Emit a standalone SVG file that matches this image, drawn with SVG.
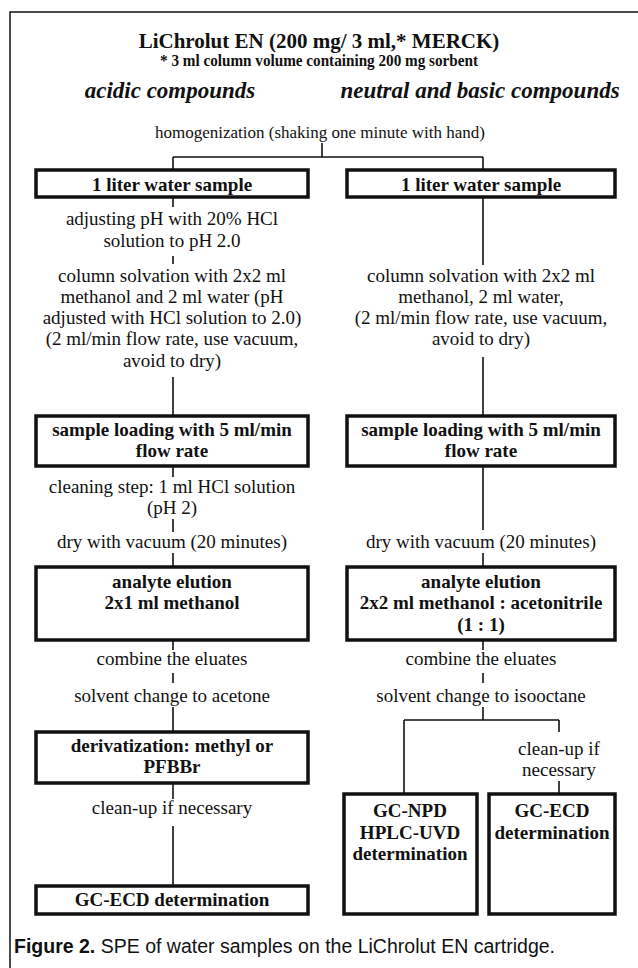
<svg xmlns="http://www.w3.org/2000/svg" width="638" height="968" viewBox="0 0 638 968">
<style>
text{font-family:"Liberation Serif","Times New Roman",serif;fill:#111;text-anchor:middle}
.t{font-size:21px;font-weight:bold}
.s{font-size:16px;font-weight:bold}
.h{font-size:23px;font-weight:bold;font-style:italic}
.m{font-size:17px}
.n{font-size:19px}
.b{font-size:19px;font-weight:bold}
.box{fill:#fff;stroke:#111;stroke-width:3.5}
.ln{stroke:#111;stroke-width:1.6;fill:none}
.cap{font-family:"Liberation Sans Narrow","Liberation Sans",Arial,sans-serif;font-size:20px;text-anchor:start}
</style>
<rect width="638" height="968" fill="#fff"/>
<path d="M10,968 V12 H638" fill="none" stroke="#111" stroke-width="1.5"/>
<g id="header">
<text class="t" x="319" y="48">LiChrolut EN (200 mg/ 3 ml,* MERCK)</text>
<text class="s" x="319" y="66" textLength="318" lengthAdjust="spacingAndGlyphs">* 3 ml column volume containing 200 mg sorbent</text>
<text class="h" x="170" y="98">acidic compounds</text>
<text class="h" x="480" y="98">neutral and basic compounds</text>
</g>
<g id="homogenization"><text class="m" x="320" y="138">homogenization (shaking one minute with hand)</text></g>
<g id="connectors" class="ln">
<path d="M322,143 V157 M173,157 H483 M173,157 V170 M483,157 V170"/>
<path d="M173,198 V207 M173,256 V264 M173,377 V416 M173,466 V477 M173,519 V532 M173,553 V567 M173,640 V650 M173,673 V683 M173,707 V732 M173,783 V799 M173,826 V886"/>
<path d="M483,197 V265 M483,357 V416 M483,466 V530 M483,553 V567 M483,640 V650 M483,673 V683 M483,707 V720 M404,720 H559 M404,720 V794 M559,720 V732 M559,781 V794"/>
</g>
<g id="L1"><rect class="box" x="36" y="170" width="272" height="27"/><text class="b" x="172" y="191">1 liter water sample</text></g>
<g id="L2"><text class="n" x="172" y="225">adjusting pH with 20% HCl</text><text class="n" x="172" y="247">solution to pH 2.0</text></g>
<g id="L3"><text class="n" x="172" y="282">column solvation with 2x2 ml</text><text class="n" x="172" y="303">methanol and 2 ml water (pH</text><text class="n" x="172" y="324">adjusted with HCl solution to 2.0)</text><text class="n" x="172" y="345">(2 ml/min flow rate, use vacuum,</text><text class="n" x="172" y="367">avoid to dry)</text></g>
<g id="L4"><rect class="box" x="36" y="416" width="272" height="50"/><text class="b" x="172" y="436">sample loading with 5 ml/min</text><text class="b" x="172" y="457">flow rate</text></g>
<g id="L5"><text class="n" x="172" y="493">cleaning step: 1 ml HCl solution</text><text class="n" x="172" y="514">(pH 2)</text></g>
<g id="L6"><text class="n" x="172" y="548">dry with vacuum (20 minutes)</text></g>
<g id="L7"><rect class="box" x="36" y="567" width="272" height="73"/><text class="b" x="172" y="588">analyte elution</text><text class="b" x="172" y="609">2x1 ml methanol</text></g>
<g id="L8"><text class="n" x="172" y="665">combine the eluates</text></g>
<g id="L9"><text class="n" x="172" y="702">solvent change to acetone</text></g>
<g id="L10"><rect class="box" x="36" y="732" width="272" height="51"/><text class="b" x="172" y="752">derivatization: methyl or</text><text class="b" x="172" y="773">PFBBr</text></g>
<g id="L11"><text class="n" x="172" y="814">clean-up if necessary</text></g>
<g id="L12"><rect class="box" x="36" y="886" width="272" height="28"/><text class="b" x="172" y="906">GC-ECD determination</text></g>
<g id="R1"><rect class="box" x="347" y="170" width="268" height="27"/><text class="b" x="481" y="191">1 liter water sample</text></g>
<g id="R2"><text class="n" x="481" y="282">column solvation with 2x2 ml</text><text class="n" x="481" y="303">methanol, 2 ml water,</text><text class="n" x="481" y="324">(2 ml/min flow rate, use vacuum,</text><text class="n" x="481" y="345">avoid to dry)</text></g>
<g id="R3"><rect class="box" x="347" y="416" width="268" height="50"/><text class="b" x="481" y="436">sample loading with 5 ml/min</text><text class="b" x="481" y="457">flow rate</text></g>
<g id="R4"><text class="n" x="481" y="548">dry with vacuum (20 minutes)</text></g>
<g id="R5"><rect class="box" x="347" y="567" width="268" height="73"/><text class="b" x="481" y="588">analyte elution</text><text class="b" x="481" y="609">2x2 ml methanol : acetonitrile</text><text class="b" x="481" y="631">(1 : 1)</text></g>
<g id="R6"><text class="n" x="481" y="665">combine the eluates</text></g>
<g id="R7"><text class="n" x="481" y="702">solvent change to isooctane</text></g>
<g id="R8"><text class="n" x="559" y="755">clean-up if</text><text class="n" x="559" y="776">necessary</text></g>
<g id="R9"><rect class="box" x="344" y="794" width="133" height="120"/><text class="b" x="410" y="817">GC-NPD</text><text class="b" x="410" y="839">HPLC-UVD</text><text class="b" x="410" y="860">determination</text></g>
<g id="R10"><rect class="box" x="489" y="794" width="126" height="120"/><text class="b" x="552" y="817">GC-ECD</text><text class="b" x="552" y="839">determination</text></g>
<g id="caption"><text class="cap" x="14" y="953" textLength="541" lengthAdjust="spacingAndGlyphs"><tspan font-weight="bold">Figure 2.</tspan> SPE of water samples on the LiChrolut EN cartridge.</text></g>
</svg>
